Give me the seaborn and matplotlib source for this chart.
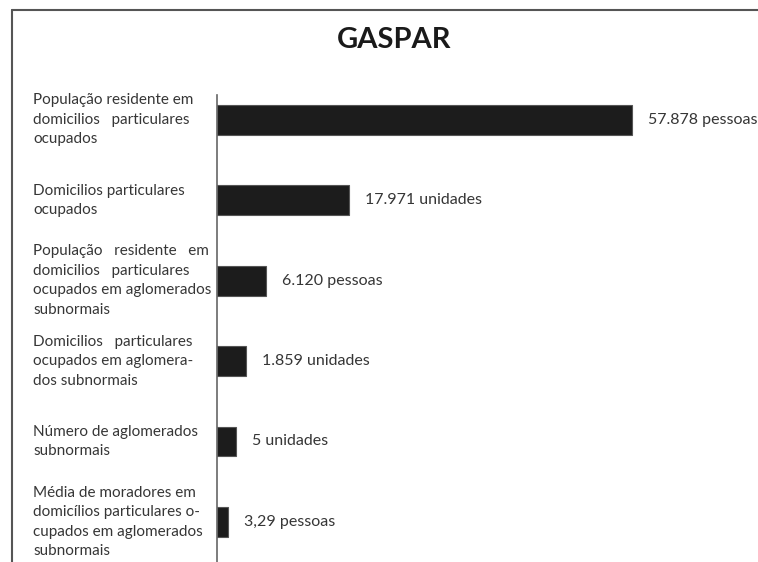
import matplotlib
matplotlib.use("Agg")
import matplotlib.pyplot as plt
from matplotlib.lines import Line2D
import pandas as pd
import seaborn as sns

# Data
categories = [
    "População residente em\ndomicilios   particulares\nocupados",
    "Domicilios particulares\nocupados",
    "População   residente   em\ndomicilios   particulares\nocupados em aglomerados\nsubnormais",
    "Domicilios   particulares\nocupados em aglomera-\ndos subnormais",
    "Número de aglomerados\nsubnormais",
    "Média de moradores em\ndomicílios particulares o-\ncupados em aglomerados\nsubnormais",
]
value_labels = [
    "57.878 pessoas",
    "17.971 unidades",
    "6.120 pessoas",
    "1.859 unidades",
    "5 unidades",
    "3,29 pessoas",
]
# drawn bar length, % of the longest bar (the chart is not to scale)
bar_size = [100, 31.8, 11.8, 7.0, 4.6, 2.7]

df = pd.DataFrame({"cat": categories, "size": bar_size})

sns.set_style("white")
plt.rcParams["font.family"] = ["Lato", "DejaVu Sans"]

W, H = 758, 562
fig = plt.figure(figsize=(W / 100, H / 100), dpi=100)
ax = fig.add_axes([217 / W, 0, 1 - 217 / W, 1 - 95 / H])

sns.barplot(data=df, x="size", y="cat", orient="h", color="#1c1c1c",
            width=0.37, edgecolor="#555555", linewidth=0.8, ax=ax)

ax.set_xlim(0, 130.4)
ax.set_ylim(5.5, -0.31)
ax.set_xlabel("")
ax.set_ylabel("")
ax.set_xticks([])
ax.set_yticks([])
for s in ["top", "right", "bottom"]:
    ax.spines[s].set_visible(False)
ax.spines["left"].set_color("#666666")
ax.spines["left"].set_linewidth(1.2)

for i, (cat, lab, v) in enumerate(zip(categories, value_labels, bar_size)):
    ax.annotate(lab, xy=(v, i), xytext=(16, 0), textcoords="offset pixels",
                ha="left", va="center", fontsize=11.5, color="#363636",
                annotation_clip=False)
    ax.annotate(cat, xy=(33 / W, i), xycoords=("figure fraction", "data"),
                ha="left", va="center", fontsize=11, color="#363636",
                linespacing=1.5, annotation_clip=False)

fig.text(394 / W, 1 - 40 / H, "GASPAR", ha="center", va="center",
         fontsize=21, fontweight="bold", color="#1a1a1a")

# page frame
fig.add_artist(Line2D([12 / W, 12 / W], [0, 1 - 10 / H], transform=fig.transFigure,
                      color="#555555", lw=1.5))
fig.add_artist(Line2D([12 / W, 1], [1 - 10 / H, 1 - 10 / H], transform=fig.transFigure,
                      color="#555555", lw=1.5))

fig.savefig("out.png", dpi=100)
plt.close(fig)
